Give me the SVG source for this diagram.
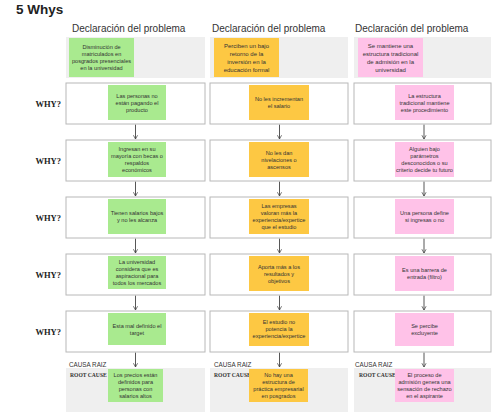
<svg xmlns="http://www.w3.org/2000/svg" width="493" height="412" viewBox="0 0 493 412">
<style>
.title{font-family:"Liberation Sans",Arial,sans-serif;font-size:13.5px;font-weight:bold;fill:#222}
.hdr{font-family:"Liberation Sans",Arial,sans-serif;font-size:10px;fill:#333}
.why{font-family:"Liberation Serif","Times New Roman",serif;font-size:8.5px;font-weight:bold;fill:#222;text-anchor:end}
.causa{font-family:"Liberation Sans",Arial,sans-serif;font-size:6.3px;fill:#333}
.root{font-family:"Liberation Serif","Times New Roman",serif;font-size:5.6px;font-weight:bold;fill:#333}
.st{font-family:"Liberation Sans",Arial,sans-serif;font-size:5.6px;fill:#333;text-anchor:middle}
.stp{font-family:"Liberation Sans",Arial,sans-serif;font-size:6px;fill:#333;text-anchor:middle}
.bg{fill:#efefef}
.box{fill:#fff;stroke:#b8b8b8;stroke-width:1}
.g{fill:#a9ea8f}
.y{fill:#fdc843}
.p{fill:#ffc2e8}
.conn{stroke:#444;stroke-width:0.9;fill:none}
</style>
<defs>
<marker id="arr" viewBox="0 0 6 6" refX="5" refY="3" markerWidth="5" markerHeight="6" markerUnits="userSpaceOnUse" orient="auto">
<path d="M0.5,0.5 L5,3 L0.5,5.5" fill="none" stroke="#444" stroke-width="0.9"/>
</marker>
</defs>

<text class="title" x="16" y="14">5 Whys</text>

<g id="headers">
<text class="hdr" x="72" y="32">Declaración del problema</text>
<text class="hdr" x="212" y="32">Declaración del problema</text>
<text class="hdr" x="355" y="32">Declaración del problema</text>
</g>

<g id="why-labels">
<text class="why" x="61" y="106.5">WHY?</text>
<text class="why" x="61" y="163.5">WHY?</text>
<text class="why" x="61" y="220.5">WHY?</text>
<text class="why" x="61" y="277.5">WHY?</text>
<text class="why" x="61" y="334.5">WHY?</text>
</g>

<!-- backgrounds -->
<g id="backgrounds">
<rect class="bg" x="66" y="37" width="139" height="41"/>
<rect class="bg" x="210" y="37" width="138" height="41"/>
<rect class="bg" x="354" y="37" width="137" height="41"/>
<rect class="bg" x="66" y="368" width="139" height="44"/>
<rect class="bg" x="210" y="368" width="138" height="44"/>
<rect class="bg" x="354" y="368" width="137" height="44"/>
</g>

<g id="connectors">
<line class="conn" x1="135.5" y1="124.5" x2="135.5" y2="139" marker-end="url(#arr)"/>
<line class="conn" x1="135.5" y1="181.5" x2="135.5" y2="196" marker-end="url(#arr)"/>
<line class="conn" x1="135.5" y1="238.5" x2="135.5" y2="253" marker-end="url(#arr)"/>
<line class="conn" x1="135.5" y1="295.5" x2="135.5" y2="310" marker-end="url(#arr)"/>
<line class="conn" x1="135.5" y1="352.5" x2="135.5" y2="367" marker-end="url(#arr)"/>
<line class="conn" x1="279.5" y1="124.5" x2="279.5" y2="139" marker-end="url(#arr)"/>
<line class="conn" x1="279.5" y1="181.5" x2="279.5" y2="196" marker-end="url(#arr)"/>
<line class="conn" x1="279.5" y1="238.5" x2="279.5" y2="253" marker-end="url(#arr)"/>
<line class="conn" x1="279.5" y1="295.5" x2="279.5" y2="310" marker-end="url(#arr)"/>
<line class="conn" x1="279.5" y1="352.5" x2="279.5" y2="367" marker-end="url(#arr)"/>
<line class="conn" x1="424" y1="124.5" x2="424" y2="139" marker-end="url(#arr)"/>
<line class="conn" x1="424" y1="181.5" x2="424" y2="196" marker-end="url(#arr)"/>
<line class="conn" x1="424" y1="238.5" x2="424" y2="253" marker-end="url(#arr)"/>
<line class="conn" x1="424" y1="295.5" x2="424" y2="310" marker-end="url(#arr)"/>
<line class="conn" x1="424" y1="352.5" x2="424" y2="367" marker-end="url(#arr)"/>
</g>

<!-- Problem statements -->
<g id="p1">
<rect class="g" x="69" y="38" width="65" height="39"/>
<text class="st" x="101.5" y="49"><tspan x="101.5">Disminución de</tspan><tspan x="101.5" dy="7">matriculados en</tspan><tspan x="101.5" dy="7">posgrados presenciales</tspan><tspan x="101.5" dy="7">en la universidad</tspan></text>
</g>
<g id="p2">
<rect class="y" x="214" y="38" width="65" height="39"/>
<text class="stp" x="246.5" y="47.5"><tspan x="246.5">Perciben un bajo</tspan><tspan x="246.5" dy="8">retorno de la</tspan><tspan x="246.5" dy="8">inversión en la</tspan><tspan x="246.5" dy="8">educación formal</tspan></text>
</g>
<g id="p3">
<rect class="p" x="358" y="38" width="65" height="39"/>
<text class="stp" x="390.5" y="47.5"><tspan x="390.5">Se mantiene una</tspan><tspan x="390.5" dy="8">estructura tradicional</tspan><tspan x="390.5" dy="8">de admisión en la</tspan><tspan x="390.5" dy="8">universidad</tspan></text>
</g>

<!-- Column 1 -->
<g id="c1r1">
<rect class="box" x="66" y="83" width="139" height="41"/>
<rect class="g" x="108" y="85" width="58" height="35"/>
<text class="st" x="137" y="97.5"><tspan x="137">Las personas no</tspan><tspan x="137" dy="7">están pagando el</tspan><tspan x="137" dy="7">producto</tspan></text>
</g>
<g id="c1r2">
<rect class="box" x="66" y="140" width="139" height="41"/>
<rect class="g" x="108" y="142" width="58" height="35"/>
<text class="st" x="137" y="151"><tspan x="137">Ingresan en su</tspan><tspan x="137" dy="7">mayoría con becas o</tspan><tspan x="137" dy="7">respaldos</tspan><tspan x="137" dy="7">económicos</tspan></text>
</g>
<g id="c1r3">
<rect class="box" x="66" y="197" width="139" height="41"/>
<rect class="g" x="108" y="199" width="58" height="35"/>
<text class="st" x="137" y="215"><tspan x="137">Tienen salarios bajos</tspan><tspan x="137" dy="7">y no les alcanza</tspan></text>
</g>
<g id="c1r4">
<rect class="box" x="66" y="254" width="139" height="41"/>
<rect class="g" x="108" y="256" width="58" height="33"/>
<text class="st" x="137" y="264"><tspan x="137">La universidad</tspan><tspan x="137" dy="7">considera que es</tspan><tspan x="137" dy="7">aspiracional para</tspan><tspan x="137" dy="7">todos los mercados</tspan></text>
</g>
<g id="c1r5">
<rect class="box" x="66" y="311" width="139" height="41"/>
<rect class="g" x="108" y="313" width="58" height="32"/>
<text class="st" x="137" y="327.5"><tspan x="137">Esta mal definido el</tspan><tspan x="137" dy="7">target</tspan></text>
</g>
<g id="c1root">
<text class="causa" x="69" y="367">CAUSA RAIZ</text>
<text class="root" x="70" y="377">ROOT CAUSE</text>
<rect class="g" x="108" y="369" width="55" height="33"/>
<text class="st" x="135.5" y="377"><tspan x="135.5">Los precios están</tspan><tspan x="135.5" dy="7">definidos para</tspan><tspan x="135.5" dy="7">personas con</tspan><tspan x="135.5" dy="7">salarios altos</tspan></text>
</g>

<!-- Column 2 -->
<g id="c2r1">
<rect class="box" x="210" y="83" width="138" height="41"/>
<rect class="y" x="249" y="85" width="60" height="35"/>
<text class="st" x="279" y="101"><tspan x="279">No les incrementan</tspan><tspan x="279" dy="7">el salario</tspan></text>
</g>
<g id="c2r2">
<rect class="box" x="210" y="140" width="138" height="41"/>
<rect class="y" x="249" y="142" width="60" height="35"/>
<text class="st" x="279" y="154.5"><tspan x="279">No les dan</tspan><tspan x="279" dy="7">nivelaciones o</tspan><tspan x="279" dy="7">ascensos</tspan></text>
</g>
<g id="c2r3">
<rect class="box" x="210" y="197" width="138" height="41"/>
<rect class="y" x="249" y="199" width="60" height="35"/>
<text class="st" x="279" y="208"><tspan x="279">Las empresas</tspan><tspan x="279" dy="7">valoran más la</tspan><tspan x="279" dy="7">experiencia/expertice</tspan><tspan x="279" dy="7">que el estudio</tspan></text>
</g>
<g id="c2r4">
<rect class="box" x="210" y="254" width="138" height="41"/>
<rect class="y" x="249" y="256" width="60" height="35"/>
<text class="st" x="279" y="268.5"><tspan x="279">Aporta más a los</tspan><tspan x="279" dy="7">resultados y</tspan><tspan x="279" dy="7">objetivos</tspan></text>
</g>
<g id="c2r5">
<rect class="box" x="210" y="311" width="138" height="41"/>
<rect class="y" x="249" y="313" width="60" height="33"/>
<text class="st" x="279" y="324"><tspan x="279">El estudio no</tspan><tspan x="279" dy="7">potencia la</tspan><tspan x="279" dy="7">experiencia/expertice</tspan></text>
</g>
<g id="c2root">
<text class="causa" x="214" y="367">CAUSA RAIZ</text>
<text class="root" x="214" y="377">ROOT CAUSE</text>
<rect class="y" x="249" y="369" width="59" height="33"/>
<text class="st" x="278.5" y="377"><tspan x="278.5">No hay una</tspan><tspan x="278.5" dy="7">estructura de</tspan><tspan x="278.5" dy="7">práctica empresarial</tspan><tspan x="278.5" dy="7">en posgrados</tspan></text>
</g>

<!-- Column 3 -->
<g id="c3r1">
<rect class="box" x="354" y="83" width="137" height="41"/>
<rect class="p" x="395" y="85" width="59" height="35"/>
<text class="st" x="424.5" y="97.5"><tspan x="424.5">La estructura</tspan><tspan x="424.5" dy="7">tradicional mantiene</tspan><tspan x="424.5" dy="7">este procedimiento</tspan></text>
</g>
<g id="c3r2">
<rect class="box" x="354" y="140" width="137" height="41"/>
<rect class="p" x="395" y="142" width="59" height="35"/>
<text class="st" x="424.5" y="151"><tspan x="424.5">Alguien bajo</tspan><tspan x="424.5" dy="7">parámetros</tspan><tspan x="424.5" dy="7">desconocidos o su</tspan><tspan x="424.5" dy="7">criterio decide tu futuro</tspan></text>
</g>
<g id="c3r3">
<rect class="box" x="354" y="197" width="137" height="41"/>
<rect class="p" x="395" y="199" width="59" height="35"/>
<text class="st" x="424.5" y="215"><tspan x="424.5">Una persona define</tspan><tspan x="424.5" dy="7">si ingresas o no</tspan></text>
</g>
<g id="c3r4">
<rect class="box" x="354" y="254" width="137" height="41"/>
<rect class="p" x="395" y="256" width="59" height="35"/>
<text class="st" x="424.5" y="272"><tspan x="424.5">Es una barrera de</tspan><tspan x="424.5" dy="7">entrada (filtro)</tspan></text>
</g>
<g id="c3r5">
<rect class="box" x="354" y="311" width="137" height="41"/>
<rect class="p" x="395" y="313" width="59" height="33"/>
<text class="st" x="424.5" y="327.5"><tspan x="424.5">Se percibe</tspan><tspan x="424.5" dy="7">excluyente</tspan></text>
</g>
<g id="c3root">
<text class="causa" x="355" y="367">CAUSA RAIZ</text>
<text class="root" x="359" y="377">ROOT CAUSE</text>
<rect class="p" x="395" y="369" width="59" height="33"/>
<text class="st" x="424.5" y="377"><tspan x="424.5">El proceso de</tspan><tspan x="424.5" dy="7">admisión genera una</tspan><tspan x="424.5" dy="7">sensación de rechazo</tspan><tspan x="424.5" dy="7">en el aspirante</tspan></text>
</g>
</svg>
